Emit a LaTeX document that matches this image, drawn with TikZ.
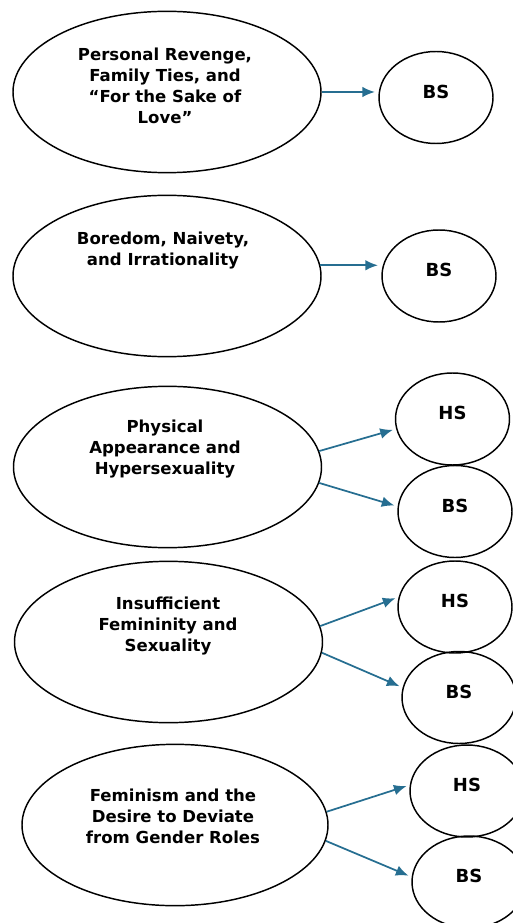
\documentclass[tikz,border=0pt]{standalone}
\usepackage{fontspec}
\setmainfont{DejaVu Sans}
\usepackage{xcolor}
\usetikzlibrary{shapes.geometric,arrows.meta}
\definecolor{arrowblue}{HTML}{266E91}
\tikzset{
 theme/.style={ellipse, draw, line width=1.1pt, minimum width=231pt, minimum height=121pt, inner sep=0pt},
 themetext/.style={align=center, font=\fontsize{12.4}{15.75}\selectfont\bfseries},
 outcome/.style={ellipse, draw, line width=1.1pt, minimum width=85.5pt, minimum height=69pt, inner sep=0pt,
  label={[font=\fontsize{13.5}{15}\selectfont\bfseries, yshift=4.5pt]center:#1}},
 link/.style={draw=arrowblue, line width=1.3pt, -{Latex[length=9.5pt,width=8pt]}, shorten >=2.5pt},
}
\begin{document}
\begin{tikzpicture}[x=0.75pt,y=-0.75pt]
\useasboundingbox (0,0) rectangle (513,923);
\node[theme] (e1) at (167,92) {};
\node[theme] (e2) at (167,276) {};
\node[theme] (e3) at (167.5,467) {};
\node[theme] (e4) at (168.5,642) {};
\node[theme, minimum width=229.5pt] (e5) at (175,825) {};
\node[themetext] (t1) at (165,86) {Personal Revenge,\\Family Ties, and\\``For the Sake of\\Love''};
\node[themetext] (t2) at (163,251) {Boredom, Naivety,\\and Irrationality};
\node[themetext] (t3) at (165,449) {Physical\\Appearance and\\Hypersexuality};
\node[themetext] (t4) at (168,626) {Insufficient\\Femininity and\\Sexuality};
\node[themetext] (t5) at (173,816) {Feminism and the\\Desire to Deviate\\from Gender Roles};
\node[outcome=BS] (bs1) at (436,97.5) {};
\node[outcome=BS] (bs2) at (439,276) {};
\node[outcome=HS] (hs3) at (452.5,419) {};
\node[outcome=BS] (bs3) at (455,511.5) {};
\node[outcome=HS] (hs4) at (455,607) {};
\node[outcome=BS] (bs4) at (459,697.5) {};
\node[outcome=HS] (hs5) at (467,791) {};
\node[outcome=BS] (bs5) at (469,882) {};
\draw[link] (e1.east) -- (e1.east -| bs1.west);
\draw[link] (e2.4) -- (e2.4 -| bs2.west);
\draw[link] (e3.6) -- (hs3.190);
\draw[link] (e3.-6) -- (bs3.175);
\draw[link] (e4.6) -- (hs4.170);
\draw[link] (e4.-4) -- (bs4.170);
\draw[link] (e5.5) -- (hs5.174);
\draw[link] (e5.-6) -- (bs5.175);
\end{tikzpicture}
\end{document}
